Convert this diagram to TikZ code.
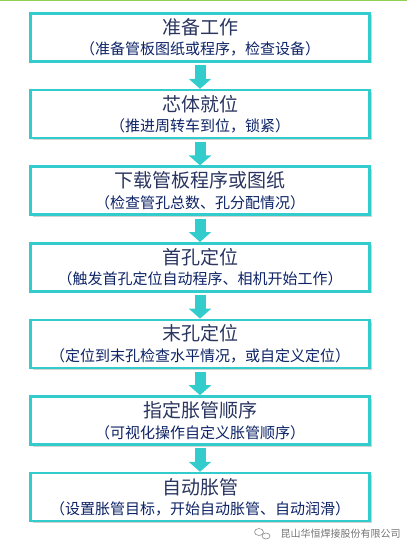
\documentclass[tikz,border=0pt]{standalone}
\usepackage{fontspec}
\usepackage{xcolor}
\usetikzlibrary{positioning,shadows,arrows.meta}
\newfontfamily\cjk{Noto Sans CJK SC}
\definecolor{flowteal}{HTML}{33CCCC}
\definecolor{flowtitle}{HTML}{2A3560}
\definecolor{flownote}{HTML}{0D2366}
\definecolor{flowgreen}{HTML}{92D050}
\newcommand{\steptitle}[1]{{\fontsize{19}{20.5}\selectfont\color{flowtitle}#1}}
\newcommand{\stepnote}[1]{{\color{flownote}#1}}

\begin{document}
\begin{tikzpicture}[
    x=1pt, y=-1pt,
    stepbox/.style={draw=flowteal, line width=2.6pt, fill=white,
      minimum width=339pt, minimum height=48pt, inner sep=0pt,
      align=center, font=\cjk\fontsize{15}{20.5}\selectfont,
      drop shadow={shadow xshift=2pt, shadow yshift=-2pt,
        fill=black!35, opacity=0.5}},
    flowarrow/.style={draw=flowteal, line width=11pt,
      -{Triangle[width=22pt, length=10pt]}, shorten <=2.5pt},
    wmark/.style={font=\cjk\fontsize{10}{12}\selectfont, text=black!55},
    node distance=26pt,
  ]
  \useasboundingbox (0,0) rectangle (407,545);
  \fill[flowgreen] (0,0) rectangle (407,1.5);

  % the seven steps, top to bottom
  \node[stepbox] (s1) at (200,37.5)
    {\steptitle{准备工作}\\ \stepnote{（准备管板图纸或程序，检查设备）}};
  \node[stepbox, below=of s1] (s2)
    {\steptitle{芯体就位}\\ \stepnote{（推进周转车到位，锁紧）}};
  \node[stepbox, below=of s2] (s3)
    {\steptitle{下载管板程序或图纸}\\ \stepnote{（检查管孔总数、孔分配情况）}};
  \node[stepbox, below=of s3] (s4)
    {\steptitle{首孔定位}\\ \stepnote{（触发首孔定位自动程序、相机开始工作）}};
  \node[stepbox, below=of s4] (s5)
    {\steptitle{末孔定位}\\ \stepnote{（定位到末孔检查水平情况，或自定义定位）}};
  \node[stepbox, below=of s5] (s6)
    {\steptitle{指定胀管顺序}\\ \stepnote{（可视化操作自定义胀管顺序）}};
  \node[stepbox, below=of s6] (s7)
    {\steptitle{自动胀管}\\ \stepnote{（设置胀管目标，开始自动胀管、自动润滑）}};

  % block arrows between steps
  \foreach \a/\b in {s1/s2, s2/s3, s3/s4, s4/s5, s5/s6, s6/s7}
    \draw[flowarrow] (\a.south) -- (\b.north);

  % watermark
  \node[wmark, anchor=west] (wm) at (277,534) {昆山华恒焊接股份有限公司};
  \draw[black!45, line width=0.6pt] (259,532) ellipse (4.5 and 3.5);
  \draw[black!45, line width=0.6pt, fill=white] (266,536) ellipse (4 and 3);
\end{tikzpicture}
\end{document}
